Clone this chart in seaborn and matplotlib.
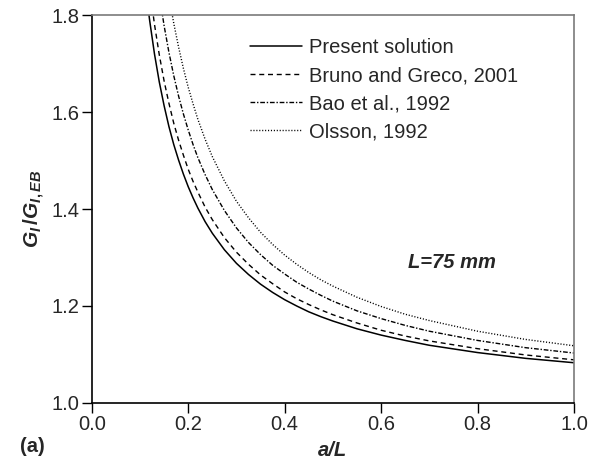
import matplotlib
matplotlib.use("Agg")
import matplotlib.pyplot as plt
import seaborn as sns
import pandas as pd

# a/L sample points
x_present = [0.11, 0.115, 0.12, 0.13, 0.14, 0.15, 0.16, 0.17, 0.18, 0.19, 0.20, 0.21, 0.22, 0.235, 0.25, 0.275, 0.30, 0.325, 0.35, 0.375, 0.40, 0.425, 0.45, 0.475, 0.50, 0.55, 0.60, 0.65, 0.70, 0.80, 0.90, 1.00]
y_present = [1.872, 1.828, 1.789, 1.720, 1.662, 1.613, 1.570, 1.533, 1.501, 1.472, 1.446, 1.423, 1.402, 1.374, 1.350, 1.316, 1.288, 1.265, 1.245, 1.228, 1.213, 1.200, 1.188, 1.178, 1.169, 1.153, 1.140, 1.129, 1.119, 1.104, 1.092, 1.083]

x_bruno = [0.12, 0.13, 0.14, 0.15, 0.16, 0.17, 0.18, 0.19, 0.20, 0.21, 0.22, 0.235, 0.25, 0.275, 0.30, 0.325, 0.35, 0.375, 0.40, 0.425, 0.45, 0.475, 0.50, 0.55, 0.60, 0.65, 0.70, 0.80, 0.90, 1.00]
y_bruno = [1.856, 1.781, 1.718, 1.664, 1.618, 1.577, 1.542, 1.511, 1.482, 1.457, 1.435, 1.404, 1.378, 1.341, 1.311, 1.286, 1.264, 1.246, 1.229, 1.215, 1.203, 1.192, 1.182, 1.165, 1.150, 1.138, 1.128, 1.112, 1.099, 1.089]

x_bao = [0.14, 0.15, 0.16, 0.17, 0.18, 0.19, 0.20, 0.21, 0.22, 0.235, 0.25, 0.275, 0.30, 0.325, 0.35, 0.375, 0.40, 0.425, 0.45, 0.475, 0.50, 0.55, 0.60, 0.65, 0.70, 0.80, 0.90, 1.00]
y_bao = [1.842, 1.778, 1.723, 1.675, 1.633, 1.596, 1.563, 1.533, 1.506, 1.471, 1.440, 1.397, 1.361, 1.331, 1.306, 1.284, 1.266, 1.249, 1.235, 1.222, 1.210, 1.190, 1.174, 1.160, 1.148, 1.129, 1.114, 1.103]

x_olsson = [0.15, 0.16, 0.17, 0.18, 0.19, 0.20, 0.21, 0.22, 0.235, 0.25, 0.275, 0.30, 0.325, 0.35, 0.375, 0.40, 0.425, 0.45, 0.475, 0.50, 0.55, 0.60, 0.65, 0.70, 0.80, 0.90, 1.00]
y_olsson = [1.904, 1.839, 1.783, 1.734, 1.690, 1.651, 1.617, 1.585, 1.544, 1.508, 1.458, 1.416, 1.382, 1.352, 1.327, 1.305, 1.286, 1.269, 1.254, 1.241, 1.218, 1.199, 1.183, 1.170, 1.148, 1.131, 1.118]

labels = ["Present solution", "Bruno and Greco, 2001", "Bao et al., 1992", "Olsson, 1992"]
x_ticks = [0.0, 0.2, 0.4, 0.6, 0.8, 1.0]
y_ticks = [1.0, 1.2, 1.4, 1.6, 1.8]

sns.set_theme(style="white")
plt.rcParams["font.family"] = ["Liberation Sans", "DejaVu Sans"]
plt.rcParams["mathtext.fontset"] = "custom"
plt.rcParams["mathtext.it"] = "Liberation Sans:bold:italic"
plt.rcParams["mathtext.rm"] = "Liberation Sans:bold"

fig, ax = plt.subplots(figsize=(5.96, 4.70), dpi=100)
fig.subplots_adjust(left=0.154, right=0.963, bottom=0.1426, top=0.968)

series = [(x_present, y_present), (x_bruno, y_bruno), (x_bao, y_bao), (x_olsson, y_olsson)]
styles = ["-", (0, (3.6, 2.7)), (0, (3.4, 1.3, 1.0, 1.3)), (0, (0.8, 1.3))]
widths = [1.1, 1.0, 1.0, 1.0]
for (xs, ys), lab, ls, lw in zip(series, labels, styles, widths):
    df = pd.DataFrame({"x": xs, "y": ys})
    sns.lineplot(data=df, x="x", y="y", ax=ax, color="black", linewidth=lw,
                 linestyle=ls, label=lab, sort=False)

ax.set_xlim(0, 1.0)
ax.set_ylim(1.0, 1.8)
ax.set_xticks(x_ticks)
ax.set_yticks(y_ticks)
ax.set_xticklabels([f"{t:.1f}" for t in x_ticks], fontsize=14.5)
ax.set_yticklabels([f"{t:.1f}" for t in y_ticks], fontsize=14.5)
ax.tick_params(axis="both", direction="out", length=7, width=1.0, color="black",
               left=True, bottom=True, top=False, right=False, pad=2)

for side in ["left", "bottom"]:
    ax.spines[side].set_color("black")
    ax.spines[side].set_linewidth(1.2)
for side in ["top", "right"]:
    ax.spines[side].set_color("#7a7a7a")
    ax.spines[side].set_linewidth(1.2)

ax.set_xlabel("a/L", fontsize=14.5, fontweight="bold", fontstyle="italic", labelpad=5)
ax.set_ylabel(r"$G_{I}\,/G_{I,EB}$", fontsize=15, labelpad=3)

ax.text(0.747, 1.289, "L=75 mm", fontsize=14.5, fontweight="bold", fontstyle="italic",
        ha="center", va="center")

fig.text(0.034, 0.049, "(a)", fontsize=14.5, fontweight="bold", ha="left", va="center")

leg = ax.legend(loc="upper left", bbox_to_anchor=(0.328, 0.94), frameon=False,
                fontsize=14.5, handlelength=2.6, handletextpad=0.35, labelspacing=0.45,
                borderpad=0, borderaxespad=0)

fig.savefig("out.png", dpi=100)
